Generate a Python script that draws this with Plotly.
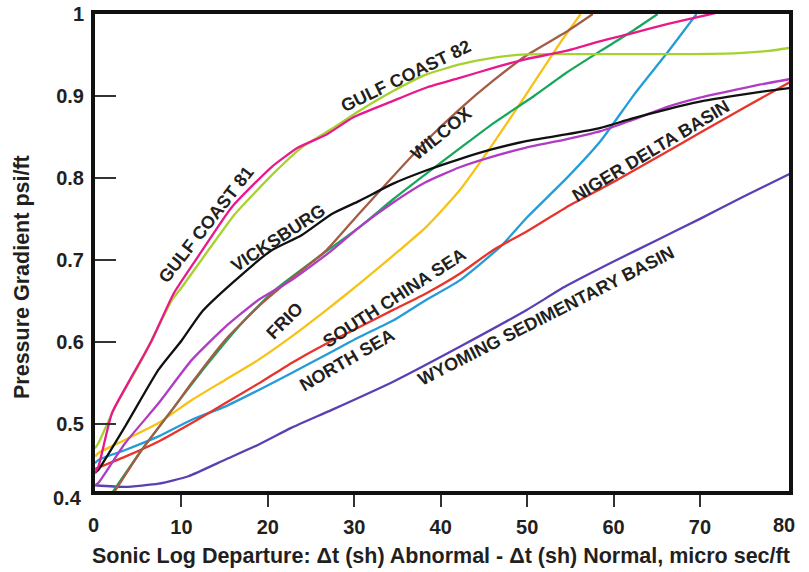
import plotly.graph_objects as go

# Pressure gradient (psi/ft) against sonic log departure (micro sec/ft), one curve per area
gulf_coast_82_x = [0, 0.4, 2.35, 5.4, 8.9, 10, 13.1, 16.2, 20.8, 23.9, 27.4, 30.6, 34.5, 38.3, 42.2, 46, 49.9, 54.5, 60, 66, 74, 78, 80.6]
gulf_coast_82_y = [0.47, 0.4765, 0.521, 0.578, 0.651, 0.666, 0.7115, 0.756, 0.807, 0.837, 0.86, 0.882, 0.906, 0.926, 0.9385, 0.9466, 0.9507, 0.951, 0.951, 0.951, 0.952, 0.955, 0.959]

gulf_coast_81_x = [0, 0.4, 1.96, 4, 6.5, 9.1, 12.4, 15.8, 20.4, 23.5, 26.8, 29.9, 34.5, 38.3, 42.2, 46, 49.9, 54.5, 58.5, 62, 66.3, 70.9, 72.5]
gulf_coast_81_y = [0.44, 0.448, 0.513, 0.553, 0.6, 0.659, 0.7115, 0.764, 0.813, 0.837, 0.853, 0.874, 0.894, 0.91, 0.922, 0.934, 0.945, 0.955, 0.967, 0.976, 0.988, 0.999, 1.003]

vicksburg_x = [0, 0.4, 3.5, 7.35, 10.05, 12.4, 15.8, 20.4, 23.9, 27.4, 30.6, 34.5, 38.3, 42.2, 46, 49.9, 54.5, 58.5, 62, 66.3, 70, 73.9, 77, 80.6]
vicksburg_y = [0.44, 0.444, 0.497, 0.566, 0.602, 0.637, 0.671, 0.7115, 0.73, 0.756, 0.772, 0.793, 0.809, 0.823, 0.835, 0.845, 0.853, 0.861, 0.872, 0.884, 0.893, 0.9, 0.905, 0.91]

frio_x = [0, 0.4, 3.5, 7.35, 11.2, 15.05, 18.9, 22.7, 27.4, 30.6, 34.5, 38.3, 42.2, 46, 49.9, 54.5, 58.5, 62, 66.3, 70, 73.9, 77, 80.6]
frio_y = [0.425, 0.428, 0.4765, 0.525, 0.578, 0.618, 0.651, 0.675, 0.7115, 0.74, 0.77, 0.795, 0.813, 0.826, 0.837, 0.847, 0.857, 0.87, 0.887, 0.898, 0.907, 0.914, 0.921]

wilcox_x = [2.3, 5.4, 9.2, 11.2, 15.05, 18.9, 22.7, 26.8, 30.6, 34.5, 38.3, 42.2, 46, 50, 54.5, 57.6]
wilcox_y = [0.418, 0.468, 0.521, 0.55, 0.602, 0.643, 0.677, 0.712, 0.757, 0.802, 0.845, 0.884, 0.918, 0.95, 0.978, 1.0]

green_x = [2.0, 5.4, 9.2, 13.1, 17, 20.8, 25.8, 30.6, 34.5, 38.3, 42.2, 46, 50.8, 54.5, 58.5, 62, 65.1]
green_y = [0.416, 0.468, 0.521, 0.574, 0.623, 0.663, 0.703, 0.74, 0.774, 0.805, 0.836, 0.866, 0.9, 0.928, 0.955, 0.978, 1.0]

south_china_sea_x = [0, 0.4, 3.5, 7.35, 11.2, 15.05, 18.9, 22.7, 26.8, 30.6, 35.2, 38.3, 42.2, 46, 49.9, 53.7, 56.2]
south_china_sea_y = [0.46, 0.4644, 0.4806, 0.501, 0.529, 0.5535, 0.578, 0.606, 0.639, 0.671, 0.7115, 0.74, 0.785, 0.841, 0.902, 0.963, 1.0]

north_sea_x = [0, 0.4, 3.5, 7.35, 11.2, 15.05, 18.9, 22.7, 27.4, 30.6, 34.5, 38.3, 42.2, 47, 50, 54.6, 58.5, 62.4, 66.3, 69.6]
north_sea_y = [0.452, 0.456, 0.468, 0.4846, 0.505, 0.521, 0.541, 0.5616, 0.588, 0.606, 0.626, 0.651, 0.675, 0.717, 0.752, 0.8, 0.845, 0.902, 0.954, 1.0]

niger_delta_x = [0, 3.5, 7.35, 11.2, 15.05, 18.9, 22.7, 26.8, 30.6, 34.5, 38.3, 42.2, 46, 50, 54.5, 60, 65, 70, 75, 80.6]
niger_delta_y = [0.445, 0.46, 0.4785, 0.501, 0.525, 0.549, 0.574, 0.598, 0.618, 0.639, 0.659, 0.683, 0.7115, 0.735, 0.764, 0.795, 0.825, 0.855, 0.885, 0.918]

wyoming_x = [0, 3.5, 7.35, 10.8, 15.05, 18.9, 22.7, 27.4, 34.5, 42.2, 49.9, 54.5, 60, 65, 70, 75, 80.6]
wyoming_y = [0.425, 0.423, 0.427, 0.436, 0.4562, 0.4745, 0.495, 0.517, 0.5514, 0.594, 0.6386, 0.668, 0.698, 0.724, 0.75, 0.777, 0.806]

# Curve captions: text, x, y, angle
label_text = ["GULF COAST 81", "VICKSBURG", "GULF COAST 82", "WILCOX", "FRIO",
              "SOUTH CHINA SEA", "NORTH SEA", "NIGER DELTA BASIN", "WYOMING SEDIMENTARY BASIN"]
label_x = [12.8, 21.2, 36.0, 40.0, 21.9, 34.6, 29.2, 64.3, 52.2]
label_y = [0.743, 0.727, 0.924, 0.854, 0.626, 0.654, 0.578, 0.833, 0.631]
label_angle = [-52, -33, -26, -39, -45, -33, -30, -31, -27]

x_ticks = [10, 20, 30, 40, 50, 60, 70]     # ticked and labelled
x_end_labels = [0, 80]                      # labelled at the frame corners, no tick
y_ticks = [0.5, 0.6, 0.7, 0.8, 0.9, 1.0]

FONT = "Liberation Sans, Arial, sans-serif"
INK = "#231f20"
FRAME = "#111111"
TICK = "#333333"

series = [
    (wyoming_x, wyoming_y, "#5a40b2"),
    (north_sea_x, north_sea_y, "#239cd8"),
    (niger_delta_x, niger_delta_y, "#e8342a"),
    (south_china_sea_x, south_china_sea_y, "#f8c214"),
    (green_x, green_y, "#17a65b"),
    (wilcox_x, wilcox_y, "#a35c45"),
    (frio_x, frio_y, "#b13cc4"),
    (vicksburg_x, vicksburg_y, "#111111"),
    (gulf_coast_82_x, gulf_coast_82_y, "#a6d22e"),
    (gulf_coast_81_x, gulf_coast_81_y, "#e8198b"),
]

fig = go.Figure()
for xs, ys, color in series:
    fig.add_trace(go.Scatter(x=xs, y=ys, mode="lines",
                             line=dict(color=color, width=2.3, shape="spline", smoothing=0.5),
                             hoverinfo="skip", showlegend=False))

for text, x, y, ang in zip(label_text, label_x, label_y, label_angle):
    fig.add_annotation(x=x, y=y, xref="x", yref="y", text=text, showarrow=False,
                       textangle=ang, font=dict(family=FONT, size=18, color=INK, weight="bold"))

tick_font = dict(family=FONT, size=20, color=INK, weight="bold")
title_font = dict(family=FONT, size=21.5, color=INK, weight="bold")

# Axis titles
fig.add_annotation(x=0.4986, y=-0.1363, xref="paper", yref="paper", xanchor="center", yanchor="middle",
                   text="Sonic Log Departure: \u0394t (sh) Abnormal - \u0394t (sh) Normal, micro sec/ft",
                   showarrow=False, font=title_font)
fig.add_annotation(x=-0.1052, y=0.4486, xref="paper", yref="paper", xanchor="center", yanchor="middle",
                   textangle=-90, text="Pressure Gradient psi/ft", showarrow=False, font=title_font)

# Scale values sitting on the frame corners
fig.add_annotation(x=0, y=0, xref="paper", yref="paper", xanchor="right", yanchor="middle",
                   text="0.4", showarrow=False, xshift=-11, yshift=-7, font=tick_font)
for xv in x_end_labels:
    fig.add_annotation(x=xv, y=0, xref="x", yref="paper", xanchor="center", yanchor="middle",
                       text=str(xv), showarrow=False, xshift=-2, yshift=-34, font=tick_font)

fig.update_layout(
    width=809, height=572,
    margin=dict(l=95, r=20, t=14, b=81, pad=0),
    paper_bgcolor="white", plot_bgcolor="white",
    xaxis=dict(range=[0, 80.3], tickmode="array", tickvals=x_ticks, ticks="outside",
               ticklen=12, tickwidth=2, tickcolor=TICK, showgrid=False, zeroline=False,
               showline=True, linewidth=4, linecolor=FRAME, mirror=True,
               tickfont=tick_font, ticklabelstandoff=3, automargin=False),
    yaxis=dict(range=[0.418, 1.0], tickmode="array", tickvals=y_ticks, ticks="inside",
               ticklen=21, tickwidth=2, tickcolor=TICK, showgrid=False, zeroline=False,
               showline=True, linewidth=4, linecolor=FRAME, mirror=True,
               tickfont=tick_font, ticklabelstandoff=3, automargin=False),
)

fig.write_html("out.html")
